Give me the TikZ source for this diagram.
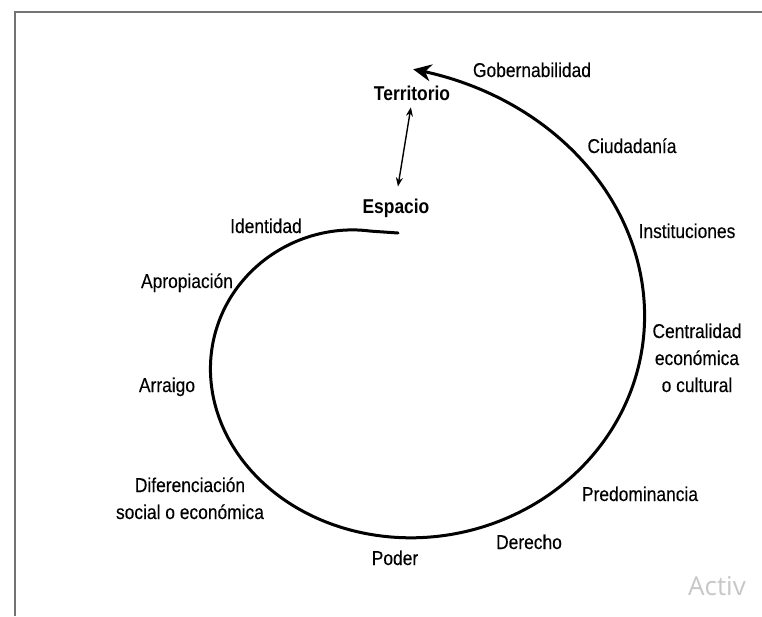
\documentclass[tikz,border=0pt]{standalone}
\usepackage{fontspec}
\setmainfont[FakeStretch=0.87,UprightFeatures={FakeBold=0.2}]{Liberation Sans}
\newfontfamily\wmfont{Open Sans}
\usetikzlibrary{arrows.meta}
\colorlet{framegray}{black!55}
\tikzset{lbl/.style={inner sep=0,anchor=base,align=center,font=\fontsize{20}{27}\selectfont},
         key/.style={lbl,font=\fontsize{20}{27}\selectfont\bfseries},
         spiral/.style={line width=3pt,line cap=round,-{Stealth[length=18pt,width=17pt]}},
         twoway/.style={line width=1.4pt,{Stealth[length=9pt,width=7pt]}-{Stealth[length=9pt,width=7pt]}}
}

\begin{document}
\begin{tikzpicture}[x=1pt,y=-1pt]
  \useasboundingbox(0,0)rectangle(762,616);
  \fill[white](0,0)rectangle(762,616);
  \draw[framegray,line width=2pt](15,616)--(15,12)--(762,12);
  \node[key] (terr) at (412,100) {Territorio};
  \node[key] (esp) at (396,213) {Espacio};
  \draw[twoway,shorten <=7pt,shorten >=12pt](terr.south)--(esp.north);
  % multi-line labels sit on their last line
  \foreach\nm/\x/\y/\txt in {gob/532/77/Gobernabilidad,ciu/632/153/Ciudadanía,ins/687/238/Instituciones,
     cen/697/392/{Centralidad\\económica\\o cultural},pre/640/501/Predominancia,der/529/549/Derecho,
     pod/395/565/Poder,dif/190/519/{Diferenciación\\social o económica},arr/167/392/Arraigo,
     apr/187/288/Apropiación,ide/266/233/Identidad} {
     \node[lbl] (\nm) at (\x,\y) {\txt};
   }
  % radius grows by 42 every quarter turn
  \draw[spiral] (398,233) -- plot[domain=265:-84,samples=150,smooth,variable=\t]
     ({381.3+1.111*(109.5+42*(270-\t)/90)*cos(\t)},{342.5+(109.5+42*(270-\t)/90)*sin(\t)});
%  \draw(688,595)node{Activ};
  \node[inner sep=0,anchor=base west,text=black!22,font=\wmfont\fontsize{26}{26}\selectfont] (wm) at (688,595) {Activ};
\end{tikzpicture}
\end{document}
